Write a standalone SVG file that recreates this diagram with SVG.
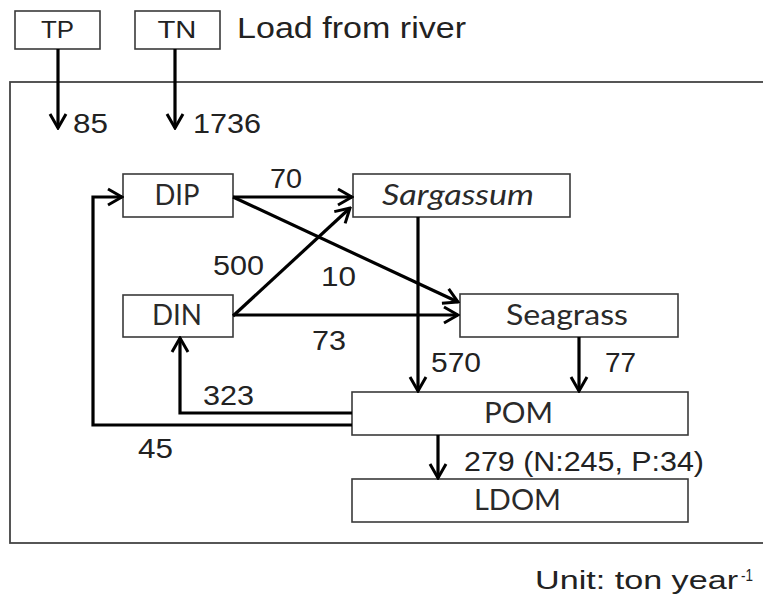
<svg xmlns="http://www.w3.org/2000/svg" width="763" height="599" viewBox="0 0 763 599">
<defs>
<marker id="ah" viewBox="0 0 18 20" refX="16" refY="10" markerWidth="18" markerHeight="20" markerUnits="userSpaceOnUse" orient="auto">
<path d="M2,2 L16,10 L2,18" fill="none" stroke="#000" stroke-width="3" stroke-linejoin="miter"/>
</marker>
</defs>
<style>
.box{fill:#fff;stroke:#3a3a3a;stroke-width:1.6}
.frame{fill:none;stroke:#444;stroke-width:1.8}
.lbl{font-family:"Lato","Open Sans",sans-serif;font-size:28px;fill:#2a2a2a;text-anchor:middle}
.num{font-family:"Liberation Sans",Arial,sans-serif;font-size:28px;fill:#222}
.ar{fill:none;stroke:#000;stroke-width:3.2;marker-end:url(#ah)}
</style>
<rect width="763" height="599" fill="#fff"/>
<rect class="frame" x="10" y="82" width="770" height="461"/>
<g id="TP"><rect class="box" x="15" y="11" width="85" height="38"/><text class="num" x="57.5" y="38" text-anchor="middle" style="font-size:24px" textLength="33" lengthAdjust="spacingAndGlyphs">TP</text></g>
<g id="TN"><rect class="box" x="135" y="11" width="85" height="38"/><text class="num" x="177" y="38" text-anchor="middle" style="font-size:24px" textLength="39" lengthAdjust="spacingAndGlyphs">TN</text></g>
<text class="num" x="237" y="38" style="font-size:29px" textLength="229" lengthAdjust="spacingAndGlyphs">Load from river</text>
<g id="DIP"><rect class="box" x="123" y="174" width="110" height="43"/><text class="lbl" x="177" y="205" textLength="45" lengthAdjust="spacingAndGlyphs">DIP</text></g>
<g id="DIN"><rect class="box" x="123" y="295" width="110" height="42"/><text class="lbl" x="177" y="325" textLength="50" lengthAdjust="spacingAndGlyphs">DIN</text></g>
<g id="Sargassum"><rect class="box" x="353" y="174" width="217" height="43"/><text class="lbl" x="458" y="205" font-style="italic" textLength="152" lengthAdjust="spacingAndGlyphs">Sargassum</text></g>
<g id="Seagrass"><rect class="box" x="460" y="294" width="218" height="43"/><text class="lbl" x="567" y="325" textLength="122" lengthAdjust="spacingAndGlyphs">Seagrass</text></g>
<g id="POM"><rect class="box" x="352" y="392" width="336" height="43"/><text class="lbl" x="518.5" y="423" textLength="69" lengthAdjust="spacingAndGlyphs">POM</text></g>
<g id="LDOM"><rect class="box" x="352" y="479" width="336" height="43"/><text class="lbl" x="517.5" y="510" textLength="87" lengthAdjust="spacingAndGlyphs">LDOM</text></g>
<g id="connectors">
<path class="ar" d="M58,49 V128"/>
<path class="ar" d="M175,49 V128"/>
<path class="ar" d="M233,197 H352"/>
<path class="ar" d="M233,197 L458,302"/>
<path class="ar" d="M233,316 L350,208"/>
<path class="ar" d="M233,315 H458"/>
<path class="ar" d="M418,217 V391"/>
<path class="ar" d="M579,337 V391"/>
<path class="ar" d="M352,413 H180 V338"/>
<path class="ar" d="M352,425 H93 V197 H122"/>
<path class="ar" d="M438,435 V478"/>
</g>
<g id="labels">
<text class="num" x="73" y="133" textLength="35" lengthAdjust="spacingAndGlyphs">85</text>
<text class="num" x="193" y="133" textLength="68" lengthAdjust="spacingAndGlyphs">1736</text>
<text class="num" x="270" y="188" textLength="32" lengthAdjust="spacingAndGlyphs">70</text>
<text class="num" x="213" y="275" textLength="51" lengthAdjust="spacingAndGlyphs">500</text>
<text class="num" x="321" y="286" textLength="35" lengthAdjust="spacingAndGlyphs">10</text>
<text class="num" x="312" y="350" textLength="34" lengthAdjust="spacingAndGlyphs">73</text>
<text class="num" x="431" y="372" textLength="50" lengthAdjust="spacingAndGlyphs">570</text>
<text class="num" x="605" y="372" textLength="31" lengthAdjust="spacingAndGlyphs">77</text>
<text class="num" x="203" y="405" textLength="51" lengthAdjust="spacingAndGlyphs">323</text>
<text class="num" x="138" y="458" textLength="35" lengthAdjust="spacingAndGlyphs">45</text>
<text class="num" x="464" y="471" textLength="240" lengthAdjust="spacingAndGlyphs">279 (N:245, P:34)</text>
<text class="num" x="535" y="589" style="font-size:25px" textLength="203" lengthAdjust="spacingAndGlyphs">Unit: ton year</text>
<text class="num" x="741" y="581" style="font-size:17px" textLength="12" lengthAdjust="spacingAndGlyphs">-1</text>
</g>
</svg>
